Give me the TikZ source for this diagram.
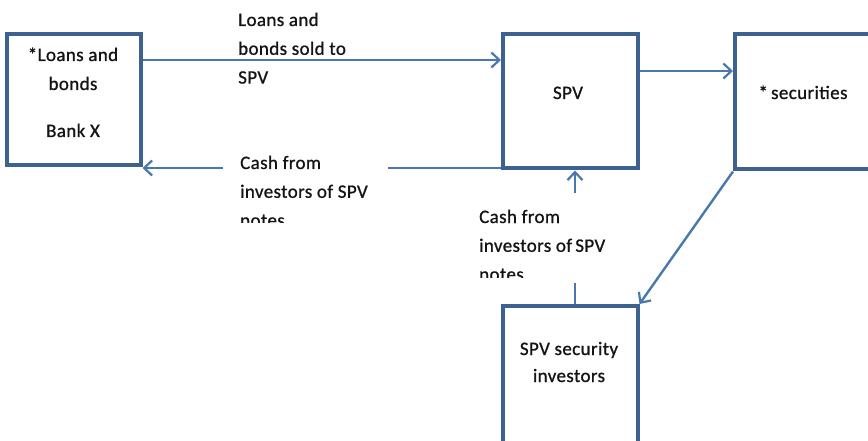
\documentclass[tikz,border=0pt]{standalone}
\usepackage{fontspec}
\setmainfont{Carlito}[FakeBold=0.9,LetterSpace=2]
\usetikzlibrary{arrows.meta}
\definecolor{boxblue}{HTML}{3D6191}
\definecolor{flowblue}{HTML}{4A77AE}
\definecolor{ink}{HTML}{141414}
\begin{document}
\begin{tikzpicture}[x=1pt,y=-1pt,
  blockbox/.style={draw=boxblue,line width=4pt,inner sep=0pt,fill=white},
  flow/.style={draw=flowblue,line width=2.4pt,-{Straight Barb[length=8pt,width=15pt,line width=2.2pt]}},
  flowline/.style={draw=flowblue,line width=2.4pt},
  txt/.style={font=\fontsize{19}{28.8}\selectfont,text=ink,inner sep=0pt},
  % multi-line labels: the base anchor sits on the last line
  note/.style={txt,align=left,anchor=base west}]
\useasboundingbox (0,0) rectangle (868,441);
\clip (0,0) rectangle (868,441);

% boxes
\node[blockbox,minimum width=134pt,minimum height=131.5pt] (bank) at (73.5,99.75) {};
\node[blockbox,minimum width=134.5pt,minimum height=134pt] (spv) at (570.25,101.5) {};
\node[blockbox,minimum width=140pt,minimum height=135pt] (sec) at (805,102) {};
\node[blockbox,minimum width=134.5pt,minimum height=140pt] (inv) at (570.25,376) {};

% box texts
\node[txt,anchor=base] (bankA) at (73,61) {*Loans and};
\node[txt,anchor=base] (bankB) at (73,90) {bonds};
\node[txt,anchor=base] (bankC) at (73,137) {Bank X};
\node[txt,anchor=base] (spvT) at (568,99) {SPV};
\node[txt,anchor=base] (secT) at (803,99) {*\,securities};
\node[txt,anchor=base] (invA) at (569,355) {SPV security};
\node[txt,anchor=base] (invB) at (569,382) {investors};

% flow labels
\node[note] (lblSold) at (238,83.6) {Loans and\\bonds sold to\\SPV};
\begin{scope}
  \clip (0,0) rectangle (868,222);
  \node[note] (lblCashA) at (240,226.6) {Cash from\\investors of SPV\\notes};
\end{scope}
\begin{scope}
  \clip (0,0) rectangle (868,277);
  \node[note] (lblCashB) at (479,280.6) {Cash from\\investors of\,SPV\\notes};
\end{scope}

% connectors
\draw[flow] (bank.east |- 0,60) -- (spv.west |- 0,60);
\draw[flow] (spv.east |- 0,71) -- (sec.west |- 0,71);
\coordinate (gapR) at (388,168);
\coordinate (gapL) at (223,168);
\draw[flowline] (spv.west |- gapR) -- (gapR);
\draw[flow] (gapL) -- (bank.east |- gapL);
\coordinate (upFrom) at (575,193);
\coordinate (stubTop) at (575,283);
\draw[flow] (upFrom) -- (spv.south -| upFrom);
\draw[flowline] (stubTop) -- (inv.north -| stubTop);
\draw[flow] (sec.south west) -- (inv.north east);
\end{tikzpicture}
\end{document}
